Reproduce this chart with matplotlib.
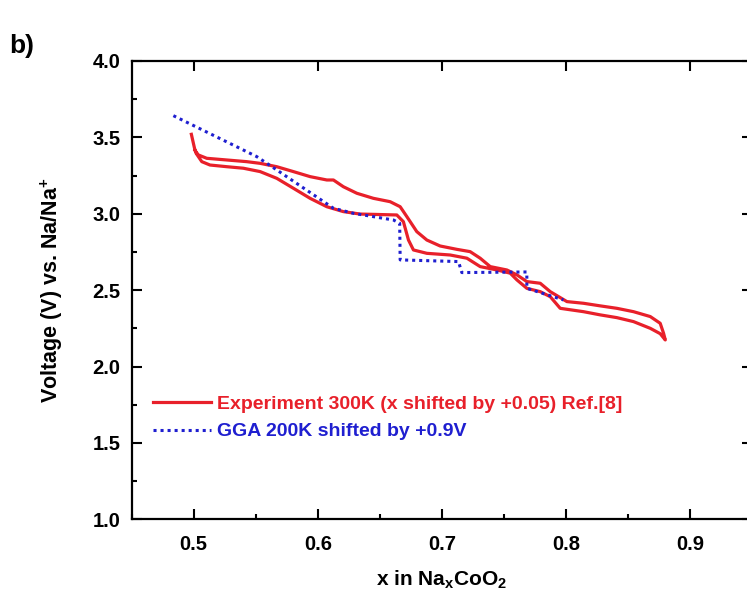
import matplotlib
matplotlib.use('Agg')
import matplotlib.pyplot as plt
from matplotlib.ticker import MultipleLocator

plt.rcParams['font.family'] = 'Liberation Sans'
plt.rcParams['font.weight'] = 'bold'
plt.rcParams['mathtext.fontset'] = 'custom'
plt.rcParams['mathtext.rm'] = 'Liberation Sans:bold'
plt.rcParams['mathtext.bf'] = 'Liberation Sans:bold'

# Experiment 300K: one closed charge/discharge loop, starting at the upper-left tip
exp_x = [0.4981, 0.5006, 0.5019, 0.5065, 0.5131, 0.5266, 0.5400, 0.5535, 0.5669, 0.5803,
         0.5938, 0.6073, 0.6206, 0.6341, 0.6448, 0.6637, 0.6690, 0.6731, 0.6771, 0.6879,
         0.7067, 0.7202, 0.7309, 0.7444, 0.7551, 0.7605, 0.7685, 0.7793, 0.7874, 0.7954,
         0.8142, 0.8277, 0.8411, 0.8545, 0.8680, 0.8760, 0.8801,
         0.8787, 0.8760, 0.8680, 0.8545, 0.8411, 0.8277, 0.8142, 0.8008, 0.7874, 0.7793,
         0.7685, 0.7605, 0.7524, 0.7390, 0.7309, 0.7228, 0.7121, 0.6986, 0.6879, 0.6798,
         0.6718, 0.6664, 0.6583, 0.6448, 0.6315, 0.6206, 0.6126, 0.6073, 0.5938, 0.5803,
         0.5669, 0.5535, 0.5427, 0.5266, 0.5105, 0.5037, 0.5010]
exp_y = [3.520, 3.430, 3.396, 3.341, 3.319, 3.308, 3.298, 3.276, 3.232, 3.167,
         3.101, 3.046, 3.014, 2.998, 2.996, 2.992, 2.948, 2.828, 2.763, 2.741,
         2.730, 2.709, 2.654, 2.632, 2.611, 2.567, 2.512, 2.490, 2.457, 2.381,
         2.359, 2.338, 2.320, 2.294, 2.250, 2.215, 2.174,
         2.218, 2.283, 2.327, 2.359, 2.381, 2.397, 2.414, 2.425, 2.490, 2.545,
         2.556, 2.600, 2.632, 2.654, 2.709, 2.752, 2.767, 2.789, 2.828, 2.883,
         2.981, 3.046, 3.079, 3.101, 3.134, 3.177, 3.221, 3.221, 3.243, 3.276,
         3.308, 3.330, 3.341, 3.352, 3.363, 3.385, 3.415]

# GGA 200K shifted by +0.9 V
gga_x = [0.4836, 0.5508, 0.5669, 0.6126, 0.6287, 0.6610, 0.6660, 0.6664, 0.7134, 0.7161,
         0.7685, 0.7685, 0.7980]
gga_y = [3.642, 3.374, 3.287, 3.036, 3.003, 2.959, 2.938, 2.698, 2.687, 2.615,
         2.619, 2.512, 2.436]

red = '#E8202A'
blue = '#1F1FD0'

fig = plt.figure(figsize=(7.47, 5.92), dpi=100)
ax = fig.add_axes([0.1763, 0.1228, 0.8304, 0.7742])

ax.plot(exp_x, exp_y, color=red, linewidth=2.3, solid_joinstyle='round',
        label='Experiment 300K (x shifted by +0.05) Ref.[8]')
ax.plot(gga_x, gga_y, color=blue, linewidth=2.2, linestyle=(0, (1, 1.3)),
        label='GGA 200K shifted by +0.9V')

ax.set_xlim(0.45, 0.95)
ax.set_ylim(1.0, 4.0)
ax.xaxis.set_major_locator(MultipleLocator(0.1))
ax.xaxis.set_minor_locator(MultipleLocator(0.05))
ax.yaxis.set_major_locator(MultipleLocator(0.5))
ax.yaxis.set_minor_locator(MultipleLocator(0.25))
ax.tick_params(which='both', direction='in', top=True, right=True, width=1.5,
               labelsize=14.5, pad=8)
ax.tick_params(axis='x', pad=11)
ax.tick_params(which='major', length=7)
ax.tick_params(which='minor', length=3.5)
ax.tick_params(axis='x', which='minor', top=False)
for s in ax.spines.values():
    s.set_linewidth(1.6)

ax.set_xlabel(r'x in Na$_{\mathbf{x}}$CoO$_{\mathbf{2}}$', fontsize=15, fontweight='bold', labelpad=11)
ax.set_ylabel(r'Voltage (V) vs. Na/Na$^{\mathbf{+}}$', fontsize=15.5, fontweight='bold', labelpad=20)

leg = ax.legend(loc='upper left', bbox_to_anchor=(0.034, 0.27), frameon=False,
                fontsize=14, handlelength=3.0, handletextpad=0.3, labelspacing=0.5,
                borderpad=0, borderaxespad=0)
for t, c in zip(leg.get_texts(), [red, blue]):
    t.set_color(c)

fig.text(0.013, 0.91, 'b)', fontsize=19, fontweight='bold')

plt.savefig('out.png', dpi=100)
